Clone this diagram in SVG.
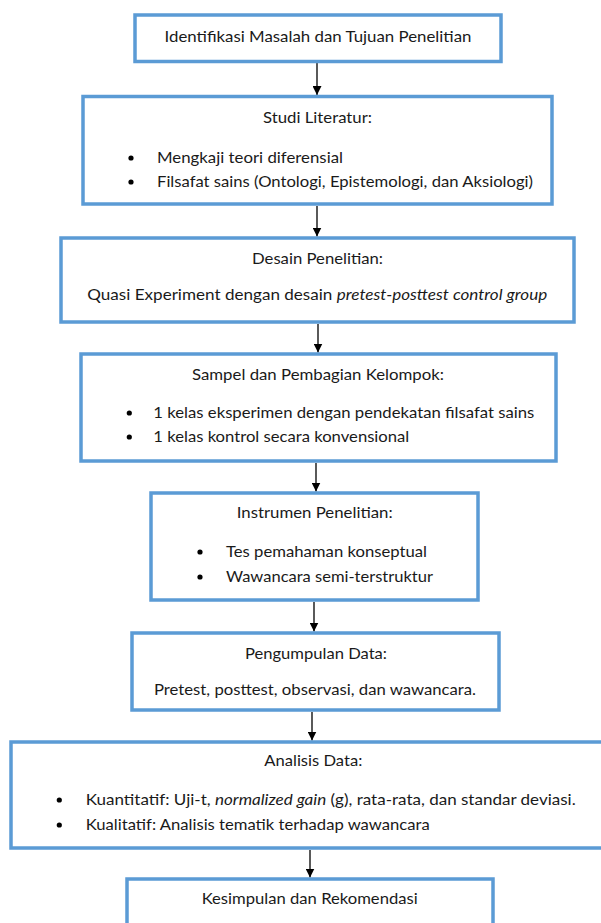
<svg xmlns="http://www.w3.org/2000/svg" width="601" height="923" viewBox="0 0 601 923">
<style>
.box{fill:#fff;stroke:#5B9BD5;stroke-width:3.5}
.t{font-family:Lato,"Open Sans","Liberation Sans",sans-serif;font-size:16px;fill:#1a1a1a}
.c{text-anchor:middle}
.i{font-style:italic}
.conn line{stroke:#000;stroke-width:1.3}
.dot{fill:#000}
</style>
<defs>
<marker id="ah" markerUnits="userSpaceOnUse" markerWidth="9" markerHeight="9" refX="9" refY="4.5" orient="auto">
<path d="M0,0 L9,4.5 L0,9 z" fill="#000"/>
</marker>
</defs>
<rect width="601" height="923" fill="#fff"/>
<g id="connectors" class="conn">
<line x1="317" y1="63" x2="317" y2="95" marker-end="url(#ah)"/>
<line x1="317" y1="206" x2="317" y2="236.5" marker-end="url(#ah)"/>
<line x1="318" y1="324" x2="318" y2="352.5" marker-end="url(#ah)"/>
<line x1="316" y1="463" x2="316" y2="491.5" marker-end="url(#ah)"/>
<line x1="314" y1="602" x2="314" y2="631.5" marker-end="url(#ah)"/>
<line x1="312" y1="712" x2="312" y2="740.5" marker-end="url(#ah)"/>
<line x1="310" y1="850" x2="310" y2="877.5" marker-end="url(#ah)"/>
</g>
<g id="n1">
<rect class="box" x="135" y="15" width="366" height="46.5"/>
<text class="t" x="164.5" y="42" textLength="307" lengthAdjust="spacingAndGlyphs">Identifikasi Masalah dan Tujuan Penelitian</text>
</g>
<g id="n2">
<rect class="box" x="83" y="96.5" width="469" height="107.5"/>
<text class="t" x="263" y="123" textLength="109" lengthAdjust="spacingAndGlyphs">Studi Literatur:</text>
<circle class="dot" cx="131" cy="158" r="2.6"/>
<text class="t" x="157" y="163" textLength="186" lengthAdjust="spacingAndGlyphs">Mengkaji teori diferensial</text>
<circle class="dot" cx="131" cy="182" r="2.6"/>
<text class="t" x="157" y="187" textLength="376" lengthAdjust="spacingAndGlyphs">Filsafat sains (Ontologi, Epistemologi, dan Aksiologi)</text>
</g>
<g id="n3">
<rect class="box" x="61" y="238" width="513" height="84"/>
<text class="t" x="252" y="264" textLength="131" lengthAdjust="spacingAndGlyphs">Desain Penelitian:</text>
<text class="t" x="87.3" y="300" textLength="460" lengthAdjust="spacingAndGlyphs">Quasi Experiment dengan desain <tspan class="i">pretest-posttest control group</tspan></text>
</g>
<g id="n4">
<rect class="box" x="81" y="354" width="475" height="107"/>
<text class="t" x="192" y="380" textLength="252" lengthAdjust="spacingAndGlyphs">Sampel dan Pembagian Kelompok:</text>
<circle class="dot" cx="129.3" cy="413" r="2.6"/>
<text class="t" x="153.3" y="418" textLength="381" lengthAdjust="spacingAndGlyphs">1 kelas eksperimen dengan pendekatan filsafat sains</text>
<circle class="dot" cx="129.3" cy="437" r="2.6"/>
<text class="t" x="153.3" y="442" textLength="256" lengthAdjust="spacingAndGlyphs">1 kelas kontrol secara konvensional</text>
</g>
<g id="n5">
<rect class="box" x="151" y="493" width="327" height="107"/>
<text class="t" x="236.7" y="518" textLength="156" lengthAdjust="spacingAndGlyphs">Instrumen Penelitian:</text>
<circle class="dot" cx="200" cy="552" r="2.6"/>
<text class="t" x="226" y="557" textLength="201" lengthAdjust="spacingAndGlyphs">Tes pemahaman konseptual</text>
<circle class="dot" cx="200" cy="577" r="2.6"/>
<text class="t" x="226" y="582" textLength="207" lengthAdjust="spacingAndGlyphs">Wawancara semi-terstruktur</text>
</g>
<g id="n6">
<rect class="box" x="132" y="633" width="367" height="77"/>
<text class="t" x="245" y="659" textLength="142" lengthAdjust="spacingAndGlyphs">Pengumpulan Data:</text>
<text class="t" x="154" y="695" textLength="322" lengthAdjust="spacingAndGlyphs">Pretest, posttest, observasi, dan wawancara.</text>
</g>
<g id="n7">
<rect class="box" x="11" y="742" width="604" height="106"/>
<text class="t" x="264.3" y="766" textLength="98" lengthAdjust="spacingAndGlyphs">Analisis Data:</text>
<circle class="dot" cx="59.3" cy="800" r="2.6"/>
<text class="t" x="85.7" y="805" textLength="490" lengthAdjust="spacingAndGlyphs">Kuantitatif: Uji-t, <tspan class="i">normalized gain</tspan> (g), rata-rata, dan standar deviasi.</text>
<circle class="dot" cx="59.3" cy="825" r="2.6"/>
<text class="t" x="85.7" y="830" textLength="344" lengthAdjust="spacingAndGlyphs">Kualitatif: Analisis tematik terhadap wawancara</text>
</g>
<g id="n8">
<rect class="box" x="127" y="879" width="366" height="70"/>
<text class="t" x="201.7" y="904" textLength="216" lengthAdjust="spacingAndGlyphs">Kesimpulan dan Rekomendasi</text>
</g>
</svg>
